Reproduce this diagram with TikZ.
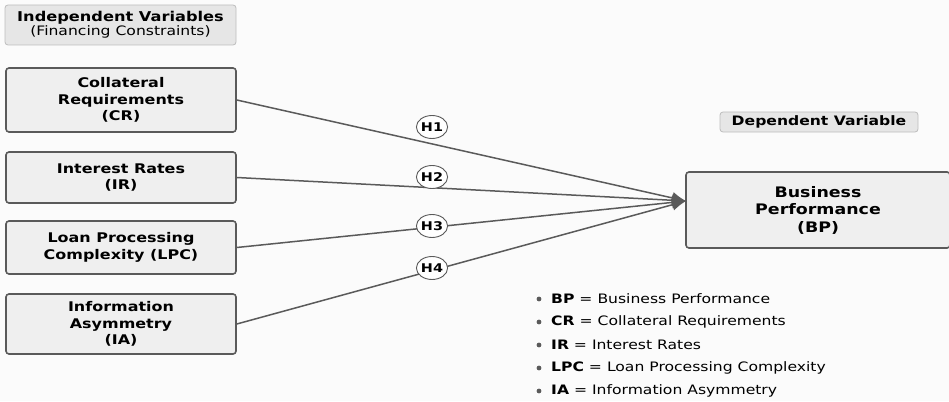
\documentclass[tikz,border=0pt]{standalone}
\usepackage{fontspec}
\setmainfont{DejaVu Sans}[FakeStretch=1.2]
\usepackage{xcolor}
\usepackage{tikz}
\usetikzlibrary{arrows.meta}
\usetikzlibrary{shapes.geometric, calc}
\definecolor{linegray}{HTML}{5A5A5A}
\definecolor{boxfill}{HTML}{EFEFEF}
\definecolor{headfill}{HTML}{E6E6E6}
\definecolor{headline}{HTML}{BDBDBD}

\tikzset{
  varbox/.style={draw=linegray, line width=1.6pt, fill=boxfill, rounded corners=3pt,
    align=center, font=\fontsize{13.3}{16.5}\selectfont\bfseries, inner sep=0pt},
  headbox/.style={draw=headline, line width=0.8pt, fill=headfill, rounded corners=3pt,
    align=center, inner sep=0pt},
  hyp/.style={ellipse, draw=linegray, line width=0.9pt, fill=white, inner sep=0pt,
    minimum width=31pt, minimum height=23pt, font=\fontsize{12}{12}\selectfont\bfseries},
  link/.style={draw=linegray, line width=1.5pt, -{Latex[length=14pt,width=12pt]}},
}

\begin{document}
\begin{tikzpicture}[x=1pt, y=-1pt]
        % Fond
        \fill[white!97!gray] (0,0) rectangle (949,401);
        \useasboundingbox (0,0) rectangle (949,401);

        % Titres
        \node[headbox, minimum width=231pt, minimum height=40pt] (indep) at (120.5,25)
          {\fontsize{13.5}{15.5}\selectfont\textbf{Independent Variables}\\
           \fontsize{13}{15.5}\selectfont(Financing Constraints)};
        \node[headbox, minimum width=198pt, minimum height=20pt] (dep) at (819,122)
          {\fontsize{13}{14}\selectfont\textbf{Dependent Variable}};

        % Variables independantes
        \node[varbox, minimum width=230pt, minimum height=64pt] (cr) at (121,100)
          {Collateral\\Requirements\\(CR)};
        \node[varbox, minimum width=230pt, minimum height=51pt] (ir) at (121,177.5)
          {Interest Rates\\(IR)};
        \node[varbox, minimum width=230pt, minimum height=53pt] (lpc) at (121,247.5)
          {Loan Processing\\Complexity (LPC)};
        \node[varbox, minimum width=230pt, minimum height=60pt] (ia) at (121,324)
          {Information\\Asymmetry\\(IA)};

        % Variable dependante
        \node[varbox, minimum width=264pt, minimum height=76pt,
          font=\fontsize{14.5}{17.5}\selectfont\bfseries] (bp) at (818,210)
          {Business\\Performance\\(BP)};
        \coordinate (tip) at (686,201);

        % Fleches
        \draw[link] (cr.east) -- (tip);
        \draw[link] (ir.east) -- (tip);
        \draw[link] (lpc.east) -- (tip);
        \draw[link] (ia.east) -- (tip);

        % Hypotheses
        \node[hyp] (h1) at (432,127) {H1};
        \node[hyp] (h2) at (432,177) {H2};
        \node[hyp] (h3) at (432,226) {H3};
        \node[hyp] (h4) at (432,268) {H4};

        % Legende
        \foreach \y/\abbr/\full [count=\i] in {299/BP/Business Performance,
            322/CR/Collateral Requirements, 345/IR/Interest Rates,
            368/LPC/Loan Processing Complexity, 391/IA/Information Asymmetry} {
          \fill[linegray] (539,\y) circle (2.4pt);
          \node[anchor=west, inner sep=0pt, font=\fontsize{13}{14}\selectfont] (leg\i) at (551,\y)
            {\textbf{\abbr} = \full};
        }
    \end{tikzpicture}
\end{document}
